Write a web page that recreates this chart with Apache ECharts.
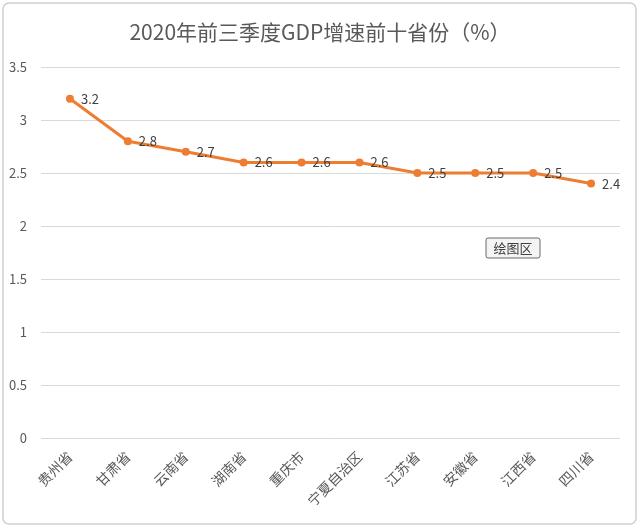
<!DOCTYPE html>
<html><head><meta charset="utf-8">
<script src="https://cdn.jsdelivr.net/npm/echarts@6/dist/echarts.min.js"></script>
<style>html,body{margin:0;padding:0;background:#fff}#c{width:640px;height:528px}</style>
</head><body><div id="c"></div>
<script>
var categories = ['贵州省','甘肃省','云南省','湖南省','重庆市','宁夏自治区','江苏省','安徽省','江西省','四川省'];
var values = [3.2, 2.8, 2.7, 2.6, 2.6, 2.6, 2.5, 2.5, 2.5, 2.4];
var titleText = '2020年前三季度GDP增速前十省份（%）';
var chart = echarts.init(document.getElementById('c'));
chart.setOption({
  animation: false,
  backgroundColor: '#fff',
  title: { text: titleText, left: 'center', top: 17,
    textStyle: { fontFamily: 'Noto Sans CJK SC', fontWeight: 'normal', fontSize: 21, color: '#595959' } },
  grid: { left: 41, right: 20, top: 67, bottom: 90, containLabel: false },
  xAxis: { type: 'category', data: categories, boundaryGap: true,
    axisLine: { show: false }, axisTick: { show: false },
    axisLabel: { rotate: 45, interval: 0, fontSize: 14, color: '#595959', fontFamily: 'Noto Sans CJK SC', margin: 16 } },
  yAxis: { type: 'value', min: 0, max: 3.5, interval: 0.5,
    axisLine: { show: false }, axisTick: { show: false },
    axisLabel: { fontSize: 13, color: '#595959', margin: 14, fontFamily: 'Noto Sans CJK SC' },
    splitLine: { lineStyle: { color: '#d9d9d9', width: 1 } } },
  series: [{ type: 'line', data: values, symbol: 'circle', symbolSize: 8,
    lineStyle: { color: '#ED7D31', width: 3 }, itemStyle: { color: '#ED7D31' },
    label: { show: true, position: 'right', distance: 7, fontSize: 13, color: '#404040', fontFamily: 'Noto Sans CJK SC' } }],
  graphic: [
    { type: 'rect', shape: { x: 3, y: 3, width: 633, height: 521, r: 6 }, style: { fill: 'none', stroke: '#d0d0d0', lineWidth: 1.5 }, z: -1 },
    { type: 'rect', shape: { x: 486, y: 238, width: 54, height: 20, r: 2 }, style: { fill: '#f4f4f4', stroke: '#6a6a6a', lineWidth: 1 } },
    { type: 'text', x: 513, y: 248, style: { text: '绘图区', fill: '#404040', font: '13px "Noto Sans CJK SC"', align: 'center', verticalAlign: 'middle' } }
  ]
});
</script></body></html>
